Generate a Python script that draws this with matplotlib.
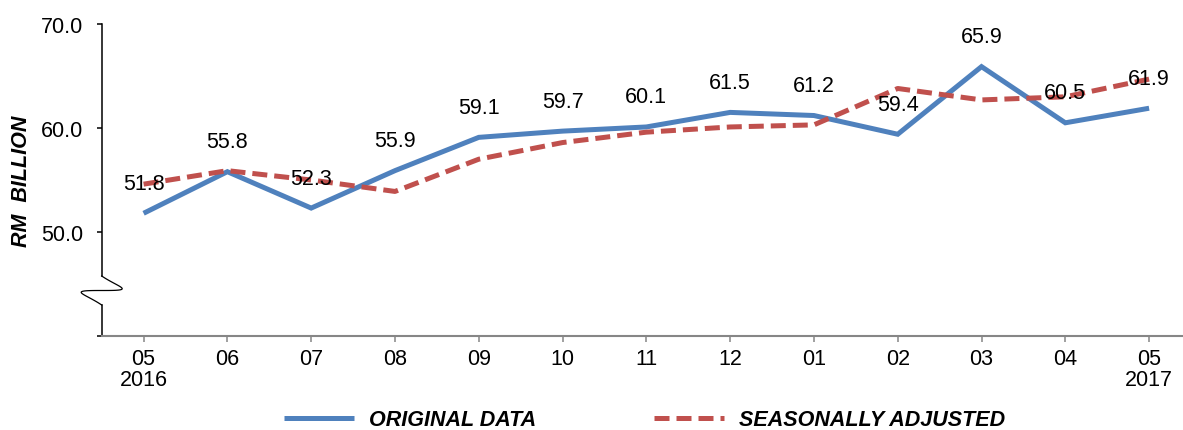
import numpy as np
import matplotlib
matplotlib.use("Agg")
import matplotlib.pyplot as plt
from matplotlib.lines import Line2D

# ── Data ──────────────────────────────────────────────────────────────────────
months   = ["05\n2016", "06", "07", "08", "09", "10", "11", "12",
            "01", "02", "03", "04", "05\n2017"]
original = [51.8, 55.8, 52.3, 55.9, 59.1, 59.7, 60.1, 61.5, 61.2, 59.4, 65.9, 60.5, 61.9]
seasonal = [54.6, 55.9, 55.0, 53.9, 57.0, 58.6, 59.6, 60.1, 60.3, 63.8, 62.7, 63.0, 64.7]

# ── Style ─────────────────────────────────────────────────────────────────────
C = {
    "blue": "#4F81BD",
    "red":  "#C0504D",
    "grey": "#868686",
    "text": "#000000",
}
FS = 15.5
plt.rcParams["font.family"] = ["Liberation Sans", "DejaVu Sans"]
plt.rcParams["font.size"] = FS

W, H, DPI = 1183, 431, 100
fig = plt.figure(figsize=(W / DPI, H / DPI), dpi=DPI, facecolor="white")
ax = fig.add_axes([101.7 / W, 1 - 337 / H, (1191 - 101.7) / W, (337 - 25) / H])

x = np.arange(len(months))
ax.plot(x, original, color=C["blue"], lw=3.6, solid_capstyle="butt",
        solid_joinstyle="miter", label="ORIGINAL DATA", zorder=3)
ax.plot(x, seasonal, color=C["red"], lw=3.6, dashes=(3, 1.4),
        dash_capstyle="butt", label="SEASONALLY ADJUSTED", zorder=3)

for xi, v in zip(x, original):
    ax.annotate(f"{v:.1f}", (xi, v), xytext=(0, 21.6), textcoords="offset points",
                ha="center", va="center", fontsize=FS, color=C["text"], zorder=4)

ax.set_xlim(-0.5, len(months) - 0.5)
ax.set_ylim(40, 70)
ax.set_xticks(x)
ax.set_xticklabels(months, linespacing=1.05)
ax.set_yticks([40, 50, 60, 70])
ax.set_yticklabels(["", "50.0", "60.0", "70.0"])

ax.tick_params(axis="x", length=4.3, width=1.1, color=C["grey"], pad=4,
               labelsize=FS, labelcolor=C["text"])
ax.tick_params(axis="y", length=3.6, width=1.1, color="black", pad=10,
               labelsize=FS, labelcolor=C["text"])

for s in ["top", "right", "left"]:
    ax.spines[s].set_visible(False)
ax.spines["bottom"].set_color(C["grey"])
ax.spines["bottom"].set_linewidth(1.5)

# left spine with a break
ytr = ax.get_yaxis_transform()
ax.plot([0, 0], [45.77, 70], color="black", lw=1.1, transform=ytr, clip_on=False)
ax.plot([0, 0], [40, 42.98], color="black", lw=1.1, transform=ytr, clip_on=False)

s = np.linspace(0, 1, 80)
wx = 101.7 + 20.5 * np.sin(2 * np.pi * s)
wy = 291.5 - 14.5 * (1 - 2 * s) ** 3
fig.add_artist(Line2D(wx / W, 1 - wy / H, color="black", lw=0.9,
                      transform=fig.transFigure))

fig.text(21.5 / W, 1 - 181 / H, "RM  BILLION", rotation=90, ha="center",
         va="center", fontsize=FS, fontweight="bold", fontstyle="italic")

leg = fig.legend(loc="center", bbox_to_anchor=(0.545, 1 - 421 / H), ncol=2,
                 frameon=False, handlelength=3.25, handletextpad=0.7,
                 columnspacing=5.5, prop={"weight": "bold", "style": "italic", "size": FS})

fig.savefig("out.png", dpi=DPI, facecolor="white")
